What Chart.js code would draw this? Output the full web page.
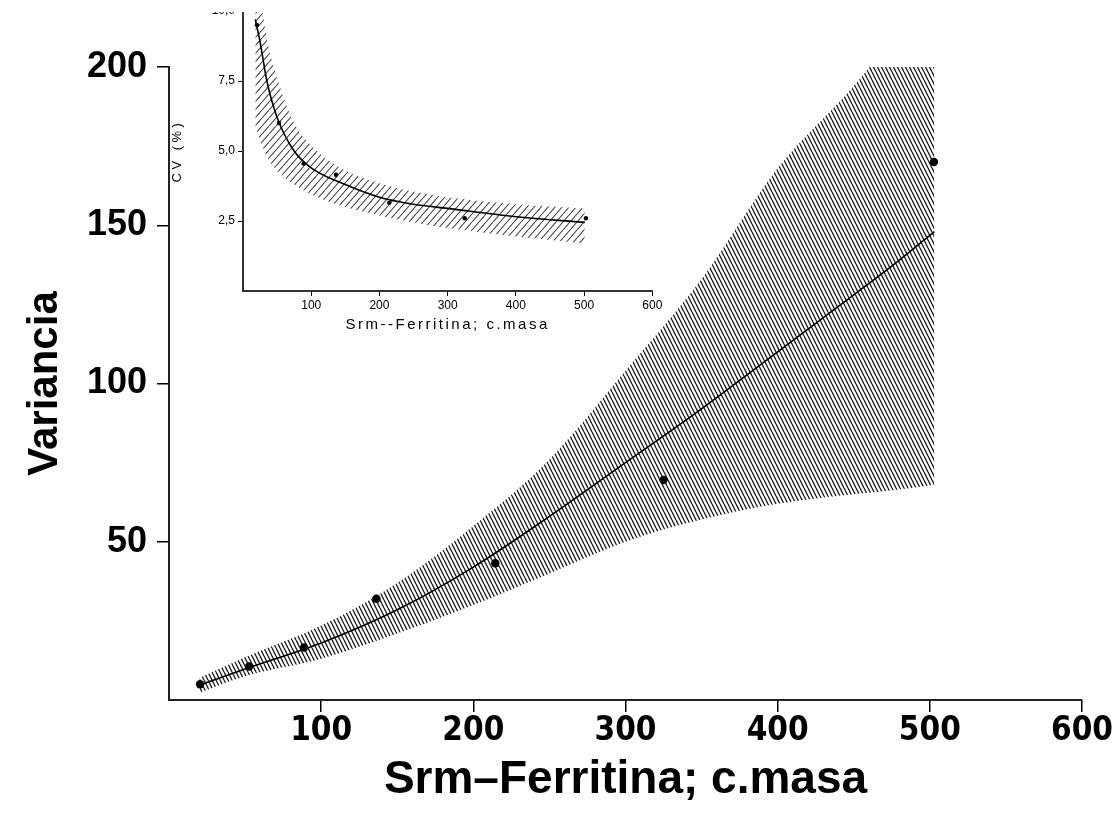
<!DOCTYPE html>
<html><head><meta charset="utf-8">
<script src="https://cdn.jsdelivr.net/npm/chart.js@4.4.0/dist/chart.umd.min.js"></script>
<style>
html,body{margin:0;padding:0;background:#fff;width:1118px;height:816px;overflow:hidden;}
#main{position:absolute;left:0;top:0;width:1118px;height:816px;}
#insetWrap{position:absolute;left:150px;top:12px;width:530px;height:340px;overflow:hidden;}
#inset{position:absolute;left:0;top:-22px;width:530px;height:360px;}
</style></head><body>
<canvas id="main" width="1118" height="816"></canvas>
<div id="insetWrap"><canvas id="inset" width="530" height="360"></canvas></div>
<script>
// ---- main chart data (variance vs. mean) ----
const mainX     = [20, 50, 100, 150, 200, 250, 300, 350, 400, 450, 480, 503];
const mainFit   = [4.7, 9.8, 18, 28.5, 42, 58, 75, 92, 110, 128, 139, 148];
const mainUpper = [7, 13.5, 23.5, 37, 55, 76, 104, 133, 168, 194, 212, 228];
const mainLower = [2.3, 7.5, 13, 21, 30, 40, 50, 57, 62, 65, 66.5, 68];
const obsX      = [20.4, 52.7, 88.8, 136.3, 214.4, 325, 502.7];
const obsVar    = [5.0, 10.6, 16.6, 32.0, 43.2, 69.5, 170.0];
const mainXTicks = [100, 200, 300, 400, 500, 600];
const mainYTicks = [50, 100, 150, 200];

// ---- inset data (CV % vs. mean) ----
const insetX     = [18, 25, 35, 50, 75, 100, 150, 200, 250, 300, 400, 501];
const insetFit   = [9.7, 8.9, 7.5, 6.2, 5.0, 4.4, 3.8, 3.35, 3.1, 2.95, 2.65, 2.45];
const insetUpper = [11, 10.5, 9.0, 7.6, 6.0, 5.2, 4.3, 3.85, 3.55, 3.35, 3.1, 2.95];
const insetLower = [5.9, 5.4, 4.8, 4.3, 3.8, 3.45, 3.0, 2.7, 2.45, 2.25, 1.95, 1.7];
const obsCV      = [9.5, 6.0, 4.55, 4.15, 3.15, 2.6, 2.6];
const insetXTicks = [100, 200, 300, 400, 500, 600];
const insetYTicks = [2.5, 5, 7.5, 10];
const insetYLabels = ['2,5', '5,0', '7,5', '10,0'];

const pts = (xs, ys) => xs.map((x, i) => ({x: x, y: ys[i]}));

function hatch(ctx, w, h, dir, color, lw) {
  const c = document.createElement('canvas'); c.width = w; c.height = h;
  const g = c.getContext('2d'); g.strokeStyle = color; g.lineWidth = lw;
  g.beginPath();
  for (let k = -1; k <= 1; k++) {
    if (dir > 0) { g.moveTo(k*w, 0); g.lineTo(k*w + w, h); }
    else { g.moveTo(k*w, h); g.lineTo(k*w + w, 0); }
  }
  g.stroke();
  return ctx.createPattern(c, 'repeat');
}

// widen the letter spacing of an axis title
function spacedTitle(px) {
  return s => {
    if (!s._spaced) {
      const orig = s.drawTitle;
      s.drawTitle = function () {
        const c = this.ctx; c.save(); c.letterSpacing = px; orig.apply(this, arguments); c.restore();
      };
      s._spaced = true;
    }
  };
}

const mainCtx = document.getElementById('main').getContext('2d');
const insetCtx = document.getElementById('inset').getContext('2d');

new Chart(mainCtx, {
  type: 'line',
  data: {
    datasets: [
      {data: pts(obsX, obsVar), showLine: false, pointRadius: 4.2, pointBackgroundColor: '#000', pointBorderWidth: 0, fill: false},
      {data: pts(mainX, mainFit), borderColor: '#000', borderWidth: 1.6, pointRadius: 0, cubicInterpolationMode: 'monotone', fill: false},
      {data: pts(mainX, mainUpper), borderWidth: 0, pointRadius: 0, cubicInterpolationMode: 'monotone', fill: '+1',
       backgroundColor: hatch(mainCtx, 4, 8, 1, '#222', 1.4)},
      {data: pts(mainX, mainLower), borderWidth: 0, pointRadius: 0, cubicInterpolationMode: 'monotone', fill: false}
    ]
  },
  options: {
    responsive: false, animation: false,
    layout: {padding: {top: 67, right: 36, left: 0, bottom: 0}},
    plugins: {legend: {display: false}, tooltip: {enabled: false}},
    scales: {
      x: {
        type: 'linear', min: 0, max: 600,
        afterBuildTicks: s => { s.ticks = mainXTicks.map(v => ({value: v})); },
        afterFit: s => { s.height = 116; },
        grid: {display: true, drawOnChartArea: false, drawTicks: true, tickLength: 12, color: '#000', lineWidth: 1.5},
        border: {display: true, color: '#222', width: 2},
        ticks: {color: '#000', padding: 0, maxRotation: 0, font: {family: "'Liberation Sans Narrow', 'DejaVu Sans Condensed', sans-serif", size: 33, weight: 'bold'}},
        title: {display: true, text: 'Srm\u2013Ferritina; c.masa', color: '#000', padding: {top: 0, bottom: 8},
                font: {family: "'Liberation Sans', Arial, sans-serif", size: 46, weight: 'bold'}}
      },
      y: {
        type: 'linear', min: 0, max: 200,
        afterBuildTicks: s => { s.ticks = mainYTicks.map(v => ({value: v})); },
        afterFit: s => { s.width = 169; },
        grid: {display: true, drawOnChartArea: false, drawTicks: true, tickLength: 12, color: '#000', lineWidth: 1.5},
        border: {display: true, color: '#222', width: 2},
        ticks: {color: '#000', padding: 10, font: {family: "'Liberation Sans', Arial, sans-serif", size: 36, weight: 'bold'}},
        title: {display: true, text: 'Variancia', color: '#000', padding: {top: 20, bottom: 0},
                font: {family: "'Liberation Sans', Arial, sans-serif", size: 42, weight: 'bold'}}
      }
    }
  }
});

new Chart(insetCtx, {
  type: 'line',
  data: {
    datasets: [
      {data: pts(obsX, obsCV), showLine: false, pointRadius: 2.2, pointBackgroundColor: '#000', pointBorderWidth: 0, fill: false},
      {data: pts(insetX, insetFit), borderColor: '#000', borderWidth: 1.6, pointRadius: 0, cubicInterpolationMode: 'monotone', fill: false},
      {data: pts(insetX, insetUpper), borderWidth: 0, pointRadius: 0, cubicInterpolationMode: 'monotone', fill: '+1',
       backgroundColor: hatch(insetCtx, 7, 8, -1, '#444', 1.1)},
      {data: pts(insetX, insetLower), borderWidth: 0, pointRadius: 0, cubicInterpolationMode: 'monotone', fill: false}
    ]
  },
  options: {
    responsive: false, animation: false,
    layout: {padding: {top: 21, right: 27.7, left: 0, bottom: 0}},
    plugins: {legend: {display: false}, tooltip: {enabled: false}},
    scales: {
      x: {
        type: 'linear', min: 0, max: 600,
        afterBuildTicks: s => { s.ticks = insetXTicks.map(v => ({value: v})); },
        afterFit: s => { s.height = 59; spacedTitle('2.5px')(s); },
        grid: {display: true, drawOnChartArea: false, drawTicks: true, tickLength: 5, color: '#000', lineWidth: 1},
        border: {display: true, color: '#333', width: 2},
        ticks: {color: '#000', padding: 2, maxRotation: 0, font: {family: "'Liberation Sans', Arial, sans-serif", size: 12}},
        title: {display: true, text: 'Srm--Ferritina; c.masa', color: '#000', padding: {top: 0, bottom: 16},
                font: {family: "'Liberation Sans', Arial, sans-serif", size: 15}}
      },
      y: {
        type: 'linear', min: 0, max: 10,
        afterBuildTicks: s => { s.ticks = insetYTicks.map(v => ({value: v})); },
        afterFit: s => { s.width = 93; spacedTitle('3.5px')(s); },
        grid: {display: true, drawOnChartArea: false, drawTicks: true, tickLength: 5, color: '#000', lineWidth: 1},
        border: {display: true, color: '#333', width: 2},
        ticks: {color: '#000', padding: 3, font: {family: "'Liberation Sans', Arial, sans-serif", size: 12},
                callback: v => insetYLabels[insetYTicks.indexOf(v)]},
        title: {display: true, text: 'CV (%)', color: '#000', padding: {top: 20, bottom: 0},
                font: {family: "'Liberation Sans', Arial, sans-serif", size: 13}}
      }
    }
  }
});
</script>
</body></html>
